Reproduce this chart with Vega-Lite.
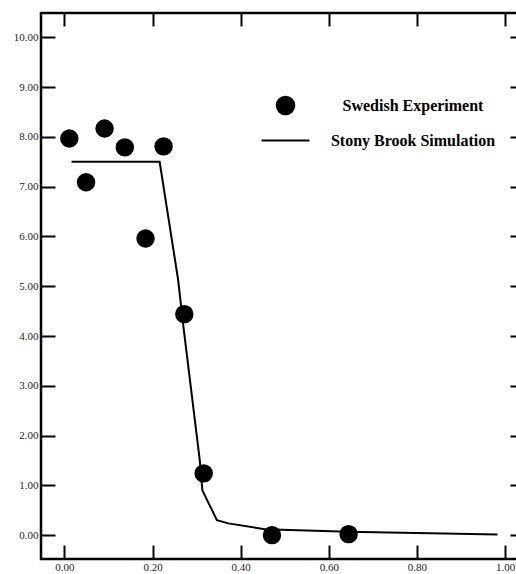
{
  "$schema": "https://vega.github.io/schema/vega-lite/v6.json",
  "width": 477,
  "height": 546,
  "autosize": "none",
  "padding": {"left": 41, "top": 13, "right": 0, "bottom": 15},
  "background": "white",
  "config": {
    "view": {"stroke": "black", "strokeWidth": 2.5},
    "axis": {
      "domain": false,
      "grid": false,
      "title": null,
      "tickColor": "black",
      "tickWidth": 2,
      "labelFont": "Liberation Serif",
      "labelFontSize": 11,
      "labelColor": "#222"
    }
  },
  "datasets": {
    "exp": [
      {"x": 0.011, "y": 7.97, "series": "Swedish Experiment"},
      {"x": 0.049, "y": 7.09, "series": "Swedish Experiment"},
      {"x": 0.091, "y": 8.17, "series": "Swedish Experiment"},
      {"x": 0.137, "y": 7.79, "series": "Swedish Experiment"},
      {"x": 0.184, "y": 5.96, "series": "Swedish Experiment"},
      {"x": 0.225, "y": 7.81, "series": "Swedish Experiment"},
      {"x": 0.272, "y": 4.44, "series": "Swedish Experiment"},
      {"x": 0.316, "y": 1.24, "series": "Swedish Experiment"},
      {"x": 0.471, "y": 0.0, "series": "Swedish Experiment"},
      {"x": 0.645, "y": 0.02, "series": "Swedish Experiment"}
    ],
    "sim": [
      {"x": 0.016, "y": 7.5},
      {"x": 0.216, "y": 7.5},
      {"x": 0.258, "y": 5.13},
      {"x": 0.27, "y": 4.19},
      {"x": 0.307, "y": 1.51},
      {"x": 0.313, "y": 0.9},
      {"x": 0.346, "y": 0.3},
      {"x": 0.372, "y": 0.236},
      {"x": 0.455, "y": 0.12},
      {"x": 0.645, "y": 0.066},
      {"x": 0.983, "y": 0.014}
    ]
  },
  "layer": [
    {
      "data": {"name": "sim"},
      "mark": {"type": "line", "color": "black", "strokeWidth": 2},
      "encoding": {
        "x": {
          "field": "x", "type": "quantitative",
          "scale": {"domain": [-0.0533, 1.0295], "nice": false, "zero": false},
          "axis": {"orient": "top", "values": [0, 0.2, 0.4, 0.6, 0.8, 1.0], "labels": false, "tickSize": -13}
        },
        "y": {
          "field": "y", "type": "quantitative",
          "scale": {"domain": [-0.48, 10.49], "nice": false, "zero": false},
          "axis": {"orient": "right", "values": [0, 1, 2, 3, 4, 5, 6, 7, 8, 9, 10], "labels": false, "tickSize": -8}
        }
      }
    },
    {
      "data": {"name": "exp"},
      "mark": {"type": "point", "filled": true, "color": "black", "opacity": 1, "size": 340},
      "encoding": {
        "x": {
          "field": "x", "type": "quantitative",
          "axis": {"orient": "bottom", "values": [0, 0.2, 0.4, 0.6, 0.8, 1.0], "format": ".2f", "tickSize": -14, "labelPadding": 16}
        },
        "y": {
          "field": "y", "type": "quantitative",
          "axis": {"orient": "left", "values": [0, 1, 2, 3, 4, 5, 6, 7, 8, 9, 10], "format": ".2f", "tickSize": -14, "labelPadding": 17}
        },
        "shape": {
          "field": "series", "type": "nominal",
          "scale": {"domain": ["Swedish Experiment", "Stony Brook Simulation"], "range": ["circle", "M-2.46,-0.1H2.46V0.1H-2.46Z"]},
          "legend": {
            "title": null,
            "orient": "none",
            "legendX": 234,
            "legendY": 82,
            "padding": 0,
            "symbolSize": 380,
            "labelFont": "Liberation Serif",
            "labelFontWeight": "bold",
            "labelFontSize": 16,
            "labelColor": "black",
            "labelAlign": "center",
            "labelOffset": 117,
            "labelLimit": 400,
            "rowPadding": 11,
            "encode": {
              "symbols": {
                "update": {
                  "fill": {"value": "black"},
                  "strokeWidth": {"value": 0},
                  "opacity": {"value": 1},
                  "fillOpacity": {"value": 1}
                }
              }
            }
          }
        }
      }
    }
  ],
  "resolve": {"axis": {"x": "independent", "y": "independent"}}
}
